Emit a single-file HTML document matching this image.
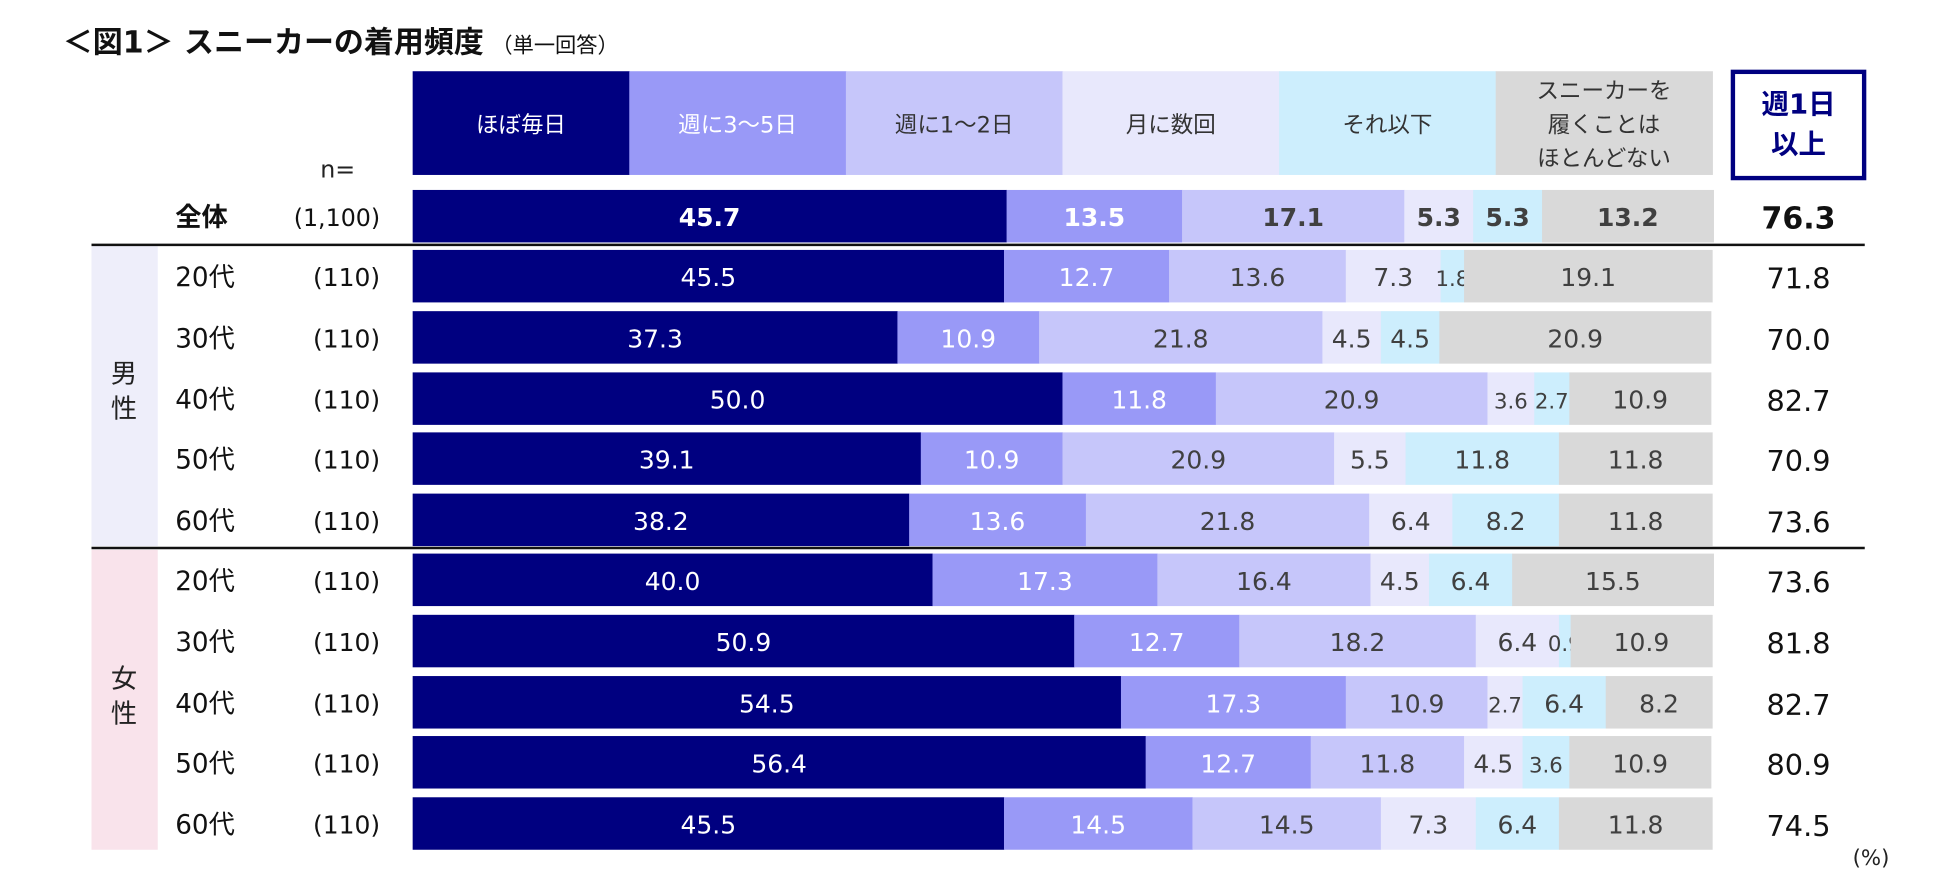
<!DOCTYPE html>
<html><head><meta charset="utf-8">
<style>
html,body{margin:0;padding:0;background:#fff;}
svg{display:block;font-family:"DejaVu Sans","Noto Sans CJK JP",sans-serif;}
</style></head>
<body>
<svg id="chart" width="1950" height="881" viewBox="0 0 1560 705" xmlns="http://www.w3.org/2000/svg">
<text x="50" y="42" font-size="24" font-weight="bold" fill="#111">＜図1＞ スニーカーの着用頻度<tspan font-size="17" font-weight="normal" dx="6">（単一回答）</tspan></text>
<rect x="73" y="197" width="53" height="240" fill="#eeeefa"/>
<rect x="73" y="440" width="53" height="240" fill="#f9e3eb"/>
<text x="99" y="306" font-size="21" text-anchor="middle" fill="#222">男</text>
<text x="99" y="334" font-size="21" text-anchor="middle" fill="#222">性</text>
<text x="99" y="550" font-size="21" text-anchor="middle" fill="#222">女</text>
<text x="99" y="578" font-size="21" text-anchor="middle" fill="#222">性</text>
<text x="270" y="142" font-size="19" text-anchor="middle" fill="#222">n=</text>
<rect x="1386.5" y="57.5" width="105" height="85" fill="#fff" stroke="#000080" stroke-width="3.5"/>
<text x="1439" y="91" font-size="22" font-weight="bold" text-anchor="middle" fill="#000080">週1日</text>
<text x="1439" y="123" font-size="22" font-weight="bold" text-anchor="middle" fill="#000080">以上</text>
<line x1="73" y1="196" x2="1492" y2="196" stroke="#111" stroke-width="2"/>
<line x1="73" y1="438.5" x2="1492" y2="438.5" stroke="#111" stroke-width="2"/>
<text x="1497" y="692" font-size="17" text-anchor="middle" fill="#222">(%)</text>
<g id="plot"></g>
</svg>
<script>
const categories = ["ほぼ毎日","週に3～5日","週に1～2日","月に数回","それ以下","スニーカーを|履くことは|ほとんどない"];
const rowLabels = ["全体","20代","30代","40代","50代","60代","20代","30代","40代","50代","60代"];
const nLabels = ["(1,100)","(110)","(110)","(110)","(110)","(110)","(110)","(110)","(110)","(110)","(110)"];
const daily = [45.7,45.5,37.3,50.0,39.1,38.2,40.0,50.9,54.5,56.4,45.5];
const w35 = [13.5,12.7,10.9,11.8,10.9,13.6,17.3,12.7,17.3,12.7,14.5];
const w12 = [17.1,13.6,21.8,20.9,20.9,21.8,16.4,18.2,10.9,11.8,14.5];
const monthly = [5.3,7.3,4.5,3.6,5.5,6.4,4.5,6.4,2.7,4.5,7.3];
const less = [5.3,1.8,4.5,2.7,11.8,8.2,6.4,0.9,6.4,3.6,6.4];
const never = [13.2,19.1,20.9,10.9,11.8,11.8,15.5,10.9,8.2,10.9,11.8];
const weekly = [76.3,71.8,70.0,82.7,70.9,73.6,73.6,81.8,82.7,80.9,74.5];

const series=[daily,w35,w12,monthly,less,never];
const colors=["#000080","#9999f7","#c6c6fa","#e8e8fc","#cdeefd","#d9d9d9"];
const txtColors=["#fff","#fff","#404040","#404040","#404040","#404040"];
const NS="http://www.w3.org/2000/svg";
const plot=document.getElementById('plot');
const x0=330,x1=1370;
const xs=v=>v/100*(x1-x0);
const rowTops=[152,200,249,298,346,395,443,492,541,589,638];
const barH=42;
function mk(tag,attrs){const e=document.createElementNS(NS,tag);for(const k in attrs)e.setAttribute(k,attrs[k]);plot.appendChild(e);return e;}
const colW=(x1-x0)/categories.length;
categories.forEach((c,i)=>{
  const r=mk('rect',{x:x0+i*colW,y:57,width:colW+0.5,height:83,fill:colors[i]});
  
  
  const lines=c.split('|');
  lines.forEach((ln,j)=>{
    const t=mk('text',{x:x0+i*colW+colW/2,y:106+(j-(lines.length-1)/2)*27,'font-size':18,'text-anchor':'middle',fill:i<2?'#fff':'#333'});
    t.textContent=ln;
    
    
  });
});
rowLabels.forEach((lab,r)=>{
  const y=rowTops[r], cy=y+barH/2+8, bold=r===0;
  const t=mk('text',{x:140,y:cy,'font-size':21,'font-weight':bold?'bold':'normal',fill:'#111'});
  t.textContent=lab;
  
  
  const n=mk('text',{x:304,y:cy,'font-size':bold?19:20,'text-anchor':'end',fill:'#111'});
  n.textContent=nLabels[r];
  
  
  let cum=0;
  series.forEach((s,i)=>{
    const v=s[r];
    const bx=x0+xs(cum);
    const b=mk('rect',{x:bx,y:y,width:xs(v)+0.3,height:barH,fill:colors[i]});
    
    
    const fs=v<4?17:20;
    const l=mk('text',{x:bx+xs(v)/2,y:cy,'font-size':fs,'text-anchor':'middle',fill:txtColors[i],'font-weight':bold?'bold':'normal'});
    l.textContent=v.toFixed(1);
    
    
    cum+=v;
  });
  const wv=mk('text',{x:1439,y:cy+2,'font-size':bold?24:23,'text-anchor':'middle',fill:'#111','font-weight':bold?'bold':'normal'});
  wv.textContent=weekly[r].toFixed(1);
  
  
});
</script>
</body></html>
